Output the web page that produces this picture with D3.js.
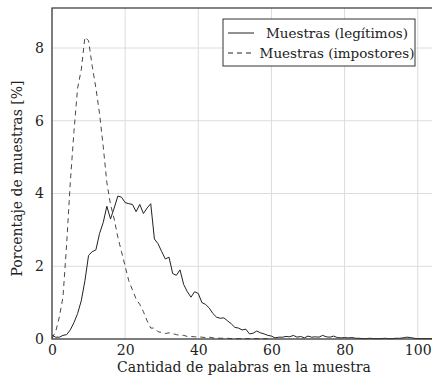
<!DOCTYPE html>
<html>
<head>
<meta charset="utf-8">
<script src="https://cdn.jsdelivr.net/npm/d3@7"></script>
<style>
  html, body { margin: 0; padding: 0; background: #fff; }
  svg { display: block; font-family: "DejaVu Serif", "Liberation Serif", serif; }
</style>
</head>
<body>
<div id="chart"></div>
<script>
/* ---------- data ---------- */
const legitValues = [
  0.1, 0.05, 0.05, 0.1, 0.12, 0.25, 0.45, 0.7, 1.05, 1.6,
  2.3, 2.4, 2.45, 2.9, 3.2, 3.65, 3.3, 3.6, 3.93, 3.9,
  3.75, 3.72, 3.7, 3.5, 3.7, 3.45, 3.6, 3.72, 2.75, 2.62,
  2.4, 2.2, 2.25, 1.8, 1.75, 1.9, 1.5, 1.3, 1.15, 1.3,
  1.25, 1.0, 0.95, 0.85, 0.7, 0.6, 0.57, 0.58, 0.5, 0.42,
  0.32, 0.3, 0.25, 0.27, 0.14, 0.16, 0.22, 0.17, 0.14, 0.1,
  0.08, 0.03, 0.05, 0.05, 0.07, 0.06, 0.1, 0.05, 0.07, 0.03,
  0.08, 0.05, 0.06, 0.05, 0.1, 0.06, 0.05, 0.08, 0.04, 0.03,
  0.04, 0.03, 0.04, 0.02, 0.02, 0.01, 0.01, 0.02, 0.01, 0.01,
  0.01, 0.02, 0.01, 0.01, 0.02, 0.02, 0.03, 0.05, 0.04, 0.02,
  0.01, 0.01, 0.01, 0.01, 0.01, 0.01
];
const impostorValues = [
  0.02, 0.2, 0.6, 1.15, 2.6, 4.3, 5.7, 6.9, 7.4, 8.3,
  8.2, 7.5, 6.9, 6.2, 5.3, 4.3, 3.7, 3.3, 2.8, 2.4,
  2.0, 1.6, 1.35, 1.1, 0.95, 0.75, 0.5, 0.3, 0.3, 0.2,
  0.18, 0.15, 0.17, 0.15, 0.12, 0.1, 0.1, 0.07, 0.07, 0.06,
  0.06, 0.05, 0.04, 0.05, 0.03, 0.03, 0.02, 0.02, 0.02, 0.01,
  0.01, 0.01, 0.01, 0.01, 0.01, 0.01, 0.01, 0.01, 0.01, 0.01
];
const xTicks = [0, 20, 40, 60, 80, 100];
const yTicks = [0, 2, 4, 6, 8];
const seriesNames = ['Muestras (legítimos)', 'Muestras (impostores)'];

/* ---------- layout ---------- */
const W = 432, H = 382;
const margin = { top: 8, left: 52, bottom: 43, right: -4 };
const w = W - margin.left - margin.right;
const h = H - margin.top - margin.bottom;
const fontSize = 14;

const svg = d3.select('#chart').append('svg')
  .attr('width', W).attr('height', H);

const g = svg.append('g').attr('transform', `translate(${margin.left},${margin.top})`);

const x = d3.scaleLinear().domain([0, 105]).range([0, w]);
const y = d3.scaleLinear().domain([0, 9.1]).range([h, 0]);

/* grid */
g.append('g').selectAll('line').data(xTicks).enter().append('line')
  .attr('x1', d => x(d)).attr('x2', d => x(d))
  .attr('y1', 0).attr('y2', h)
  .attr('stroke', '#dcdcdc').attr('stroke-width', 1);
g.append('g').selectAll('line').data(yTicks).enter().append('line')
  .attr('x1', 0).attr('x2', w)
  .attr('y1', d => y(d)).attr('y2', d => y(d))
  .attr('stroke', '#dcdcdc').attr('stroke-width', 1);

/* curves */
const line = d3.line().x((d, i) => x(i)).y(d => y(d));
g.append('path').datum(legitValues)
  .attr('fill', 'none').attr('stroke', '#222').attr('stroke-width', 1)
  .attr('d', line);
g.append('path').datum(impostorValues)
  .attr('fill', 'none').attr('stroke', '#333').attr('stroke-width', 0.9)
  .attr('stroke-dasharray', '5,4')
  .attr('d', line);

/* frame */
g.append('rect').attr('x', 0).attr('y', 0).attr('width', w).attr('height', h)
  .attr('fill', 'none').attr('stroke', '#333').attr('stroke-width', 1.2);

/* axes */
const xAxis = g.append('g').attr('transform', `translate(0,${h})`)
  .call(d3.axisBottom(x).tickValues(xTicks).tickSize(0).tickPadding(6));
const yAxis = g.append('g')
  .call(d3.axisLeft(y).tickValues(yTicks).tickSize(0).tickPadding(8));
[xAxis, yAxis].forEach(a => {
  a.select('.domain').remove();
  a.selectAll('text').attr('font-family', '"DejaVu Serif", serif')
    .attr('font-size', fontSize).attr('fill', '#222');
});

/* axis labels */
svg.append('text')
  .attr('x', margin.left + w / 2).attr('y', 372)
  .attr('text-anchor', 'middle').attr('font-size', fontSize).attr('fill', '#222')
  .text('Cantidad de palabras en la muestra');
svg.append('text')
  .attr('transform', `translate(22,${margin.top + h / 2 + 5}) rotate(-90)`)
  .attr('text-anchor', 'middle').attr('font-size', fontSize).attr('fill', '#222')
  .text('Porcentaje de muestras [%]');

/* legend */
const lg = svg.append('g');
lg.append('rect').attr('x', 223).attr('y', 19).attr('width', 192).attr('height', 47)
  .attr('fill', '#fff').attr('stroke', '#333').attr('stroke-width', 1);
seriesNames.forEach((name, i) => {
  const cy = 33 + i * 20;
  lg.append('line').attr('x1', 228).attr('x2', 254).attr('y1', cy).attr('y2', cy)
    .attr('stroke', '#222').attr('stroke-width', 1)
    .attr('stroke-dasharray', i === 1 ? '5,4' : null);
  lg.append('text').attr('x', 337).attr('y', cy + 5)
    .attr('text-anchor', 'middle').attr('font-size', 13.5).attr('fill', '#222')
    .text(name);
});
</script>
</body>
</html>
